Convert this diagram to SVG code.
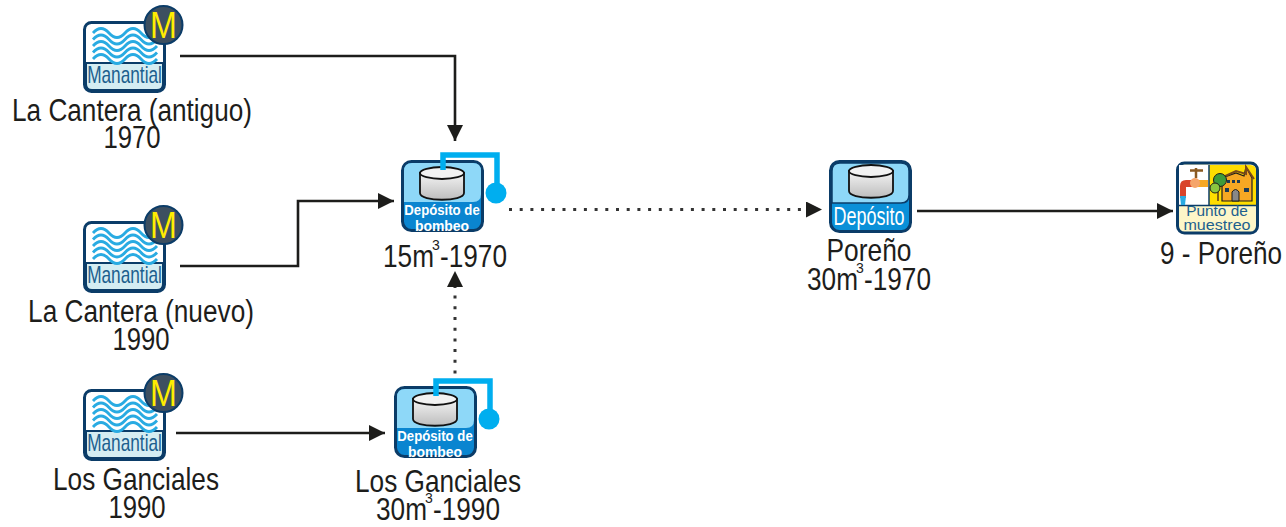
<svg xmlns="http://www.w3.org/2000/svg" xmlns:xlink="http://www.w3.org/1999/xlink" width="1286" height="527" viewBox="0 0 1286 527">
<style>
text{font-family:"Liberation Sans",Arial,sans-serif}
.lbl{font-size:31px;fill:#1d1d1b;text-anchor:middle}
.st{font-size:31px;fill:#1d1d1b}
.sup{font-size:14px;fill:#1d1d1b}
.con{fill:none;stroke:#1d1d1b;stroke-width:2.6}
.dot{fill:none;stroke:#333;stroke-width:3;stroke-dasharray:3 7.7}
.wave{fill:none;stroke:#29abe2;stroke-width:2.8}
.pipe{fill:none;stroke:#00aeef;stroke-width:5.500}
.cap{font-size:23px;fill:#1c5f8e;text-anchor:middle}
.wht{fill:#fff;text-anchor:middle;font-weight:bold;font-size:15px}
</style>
<defs>
<marker id="arr" markerWidth="17" markerHeight="16" refX="16" refY="8" orient="auto" markerUnits="userSpaceOnUse"><path d="M0 0L16 8L0 16Z" fill="#1d1d1b"/></marker>
<marker id="arrs" markerWidth="17" markerHeight="16" refX="0" refY="8" orient="auto" markerUnits="userSpaceOnUse"><path d="M0 0L16 8L0 16Z" fill="#1d1d1b"/></marker>
<linearGradient id="cyl" x1="0" y1="0" x2="0" y2="1"><stop offset="0" stop-color="#f4f4f4"/><stop offset="1" stop-color="#bdbdbd"/></linearGradient>
<g id="mana">
<rect x="1.500" y="1.500" width="80" height="69" rx="7" fill="#fff" stroke="#0b3c68" stroke-width="3"/>
<path d="M3 42H80V63q0 6-6 6H9q-6 0-6-6Z" fill="#d5edf2" stroke="#0b3c68" stroke-width="2"/>
<path class="wave" d="M10 12q8-9 16 0t16 0 16 0 16 0M10 18.500q8-9 16 0t16 0 16 0 16 0M10 25q8-9 16 0t16 0 16 0 16 0M10 31.500q8-9 16 0t16 0 16 0 16 0M10 38q8-9 16 0t16 0 16 0 16 0"/>
<text class="cap" x="0" y="0" transform="translate(41.500 62) scale(.75 1)">Manantial</text>
<circle cx="80.500" cy="4" r="19" fill="#3d4f60" stroke="#0b3c68" stroke-width="2"/>
<text x="0" y="0" font-size="37" fill="#ffed00" text-anchor="middle" transform="translate(80.500 17) scale(.87 1)">M</text>
</g>
<g id="tank">
<path d="M-22 13V33c0 9 44 9 44 0V13Z" fill="url(#cyl)" stroke="#111" stroke-width="1.800"/>
<ellipse cx="0" cy="13" rx="22" ry="6" fill="#f2f2f2" stroke="#111" stroke-width="1.800"/>
</g>
<g id="bomb">
<rect x="1.500" y="1.500" width="80" height="69" rx="9" fill="#0a85d0" stroke="#0b3c68" stroke-width="3"/>
<path d="M3 11q0-8 8-8H72q8 0 8 8V34q0 8-8 8H3Z" fill="#8ed8f8"/>
<use xlink:href="#tank" x="41" y="0"/>
<path class="pipe" d="M42 10V-5H96V28"/>
<circle cx="95" cy="33" r="10.500" fill="#00aeef"/>
<text class="wht" transform="translate(41 55) scale(.88 1)">Depósito de</text>
<text class="wht" transform="translate(41 71) scale(.93 1)">bombeo</text>
</g>
</defs>

<g id="connectors">
<path class="con" marker-end="url(#arr)" d="M180 56H455V141"/>
<path class="con" marker-end="url(#arr)" d="M180 266H298V201H394"/>
<path class="con" marker-end="url(#arr)" d="M176 433H385"/>
<path class="dot" marker-end="url(#arrs)" d="M509 209.500H806"/>
<path class="dot" marker-end="url(#arrs)" d="M455 373.500V287"/>
<path class="con" marker-end="url(#arr)" d="M917 211H1173"/>
</g>

<g id="n-cantera-antiguo">
<use xlink:href="#mana" x="83" y="21"/>
<text class="lbl" transform="translate(132 121) scale(.844 1)">La Cantera (antiguo)</text>
<text class="lbl" transform="translate(132 148) scale(.83 1)">1970</text>
</g>
<g id="n-cantera-nuevo">
<use xlink:href="#mana" x="83" y="221"/>
<text class="lbl" transform="translate(141 322) scale(.846 1)">La Cantera (nuevo)</text>
<text class="lbl" transform="translate(141 350) scale(.83 1)">1990</text>
</g>
<g id="n-ganciales">
<use xlink:href="#mana" x="83" y="389"/>
<text class="lbl" transform="translate(136 490) scale(.845 1)">Los Ganciales</text>
<text class="lbl" transform="translate(137 518) scale(.83 1)">1990</text>
</g>
<g id="n-bombeo-15">
<use xlink:href="#bomb" x="401" y="160"/>
<text class="st" transform="translate(383 267) scale(.845 1)">15m</text>
<text class="sup" x="432" y="250">3</text>
<text class="st" transform="translate(440 267) scale(.845 1)">-1970</text>
</g>
<g id="n-bombeo-30">
<use xlink:href="#bomb" x="394" y="386"/>
<text class="lbl" transform="translate(438 492) scale(.845 1)">Los Ganciales</text>
<text class="st" transform="translate(376 520) scale(.845 1)">30m</text>
<text class="sup" x="425" y="503">3</text>
<text class="st" transform="translate(433 520) scale(.845 1)">-1990</text>
</g>
<g id="n-deposito">
<rect x="830.500" y="161.500" width="80" height="70" rx="9" fill="#0a90d8" stroke="#0b3c68" stroke-width="3"/>
<path d="M832 171q0-8 8-8H901q8 0 8 8V195q0 8-8 8H832Z" fill="#8ed8f8" stroke="#0b3c68" stroke-width="1.500"/>
<use xlink:href="#tank" x="871" y="158"/>
<text font-size="25" fill="#fff" text-anchor="middle" transform="translate(869 225) scale(.72 1)">Depósito</text>
<text class="lbl" transform="translate(869 261) scale(.85 1)">Poreño</text>
<text class="st" transform="translate(807 290) scale(.845 1)">30m</text>
<text class="sup" x="856" y="273">3</text>
<text class="st" transform="translate(864 290) scale(.845 1)">-1970</text>
</g>
<g id="n-punto">
<rect x="1177.500" y="163" width="80" height="70" rx="7" fill="#fdf6c8" stroke="#0b3c68" stroke-width="3"/>
<rect x="1179" y="165" width="30" height="40" fill="#fff"/>
<path d="M1209 165H1250q6 0 6 6V205H1209Z" fill="#ffdd00"/>
<path d="M1179 205.500H1256M1209 165V205" fill="none" stroke="#0b3c68" stroke-width="1.500"/>
<path d="M1180 198V186q0-6 6-6H1197V187H1186V198Z" fill="#d9442a"/>
<path d="M1180 196h6l-1 9h-4Z" fill="#29abe2"/>
<rect x="1194" y="180" width="14" height="7" fill="#f7a823"/>
<circle cx="1195" cy="183" r="5" fill="#f5a56b"/>
<path d="M1196 178V168M1190 170.500H1203" stroke="#8a5a22" stroke-width="2.500" fill="none"/>
<path d="M1222 178L1236 173L1244 176L1246 167L1252 178V201H1222Z" fill="#f7a823" stroke="#1d1d1b" stroke-width="1.200"/>
<path d="M1221 178L1236 171L1246 174L1246 167L1254 179" fill="none" stroke="#7a4a1a" stroke-width="2"/>
<path d="M1218 201V190" stroke="#5a3a1a" stroke-width="1.500"/>
<circle cx="1220" cy="180" r="6.500" fill="#3f9b3a" stroke="#1d1d1b"/>
<circle cx="1215" cy="188" r="5" fill="#8cc63f" stroke="#1d1d1b"/>
<path d="M1232 201V192q3.500-5 7 0V201Z" fill="#888" stroke="#1d1d1b"/>
<path d="M1227 180h3v3h-3ZM1232 180h3v3h-3ZM1237 180h3v3h-3ZM1244 188h5v4h-5ZM1225 188h4v4h-4Z" fill="#1d3b54"/>
<text font-size="14" fill="#1c5f8e" text-anchor="middle" transform="translate(1217 216) scale(1.1 1)">Punto de</text>
<text font-size="14" fill="#1c5f8e" text-anchor="middle" transform="translate(1217 230) scale(1.15 1)">muestreo</text>
<text class="lbl" transform="translate(1221 264) scale(.843 1)">9 - Poreño</text>
</g>
</svg>
